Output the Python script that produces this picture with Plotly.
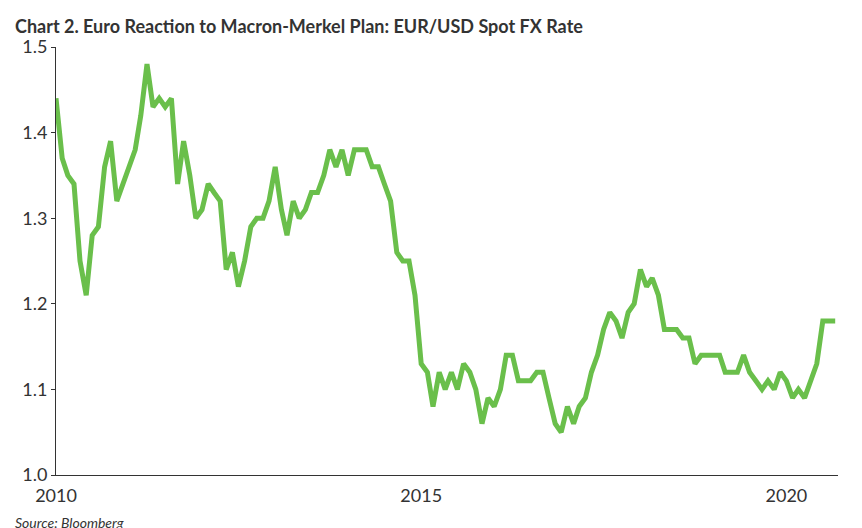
import plotly.graph_objects as go
import pandas as pd

vals = [
1.44,1.37,1.35,1.34,1.25,1.21,1.28,1.29,1.36,1.39,1.32,1.34,
1.36,1.38,1.42,1.48,1.43,1.44,1.43,1.44,1.34,1.39,1.35,1.30,
1.31,1.34,1.33,1.32,1.24,1.26,1.22,1.25,1.29,1.30,1.30,1.32,
1.36,1.31,1.28,1.32,1.30,1.31,1.33,1.33,1.35,1.38,1.36,1.38,
1.35,1.38,1.38,1.38,1.36,1.36,1.34,1.32,1.26,1.25,1.25,1.21,
1.13,1.12,1.08,1.12,1.10,1.12,1.10,1.13,1.12,1.10,1.06,1.09,
1.08,1.10,1.14,1.14,1.11,1.11,1.11,1.12,1.12,1.09,1.06,1.05,
1.08,1.06,1.08,1.09,1.12,1.14,1.17,1.19,1.18,1.16,1.19,1.20,
1.24,1.22,1.23,1.21,1.17,1.17,1.17,1.16,1.16,1.13,1.14,1.14,
1.14,1.14,1.12,1.12,1.12,1.14,1.12,1.11,1.10,1.11,1.10,1.12,
1.11,1.09,1.10,1.09,1.11,1.13,1.18,1.18,1.18]
dates = pd.date_range("2010-01-01", periods=len(vals), freq="MS")
x_ticks = ["2010-01-01", "2015-01-01", "2020-01-01"]
x_labels = ["2010", "2015", "2020"]
y_ticks = [1.0, 1.1, 1.2, 1.3, 1.4, 1.5]

fig = go.Figure(go.Scatter(x=dates, y=vals, mode="lines",
                           line=dict(color="#6abf4b", width=5)))
fig.update_layout(
    width=862, height=528, margin=dict(l=48, r=32, t=39, b=61),
    plot_bgcolor="white", paper_bgcolor="white", showlegend=False,
    font=dict(family="Lato, sans-serif", color="#333", size=18),
    xaxis=dict(range=["2010-01-01", "2020-09-15"], showgrid=False,
               showline=True, linecolor="#333", linewidth=1,
               tickvals=x_ticks, ticktext=x_labels, ticks="", ticklabelstandoff=4),
    yaxis=dict(range=[1.0, 1.5], showgrid=False, showline=True, linecolor="#333",
               linewidth=1, tickvals=y_ticks, tickformat=".1f", ticks="outside",
               ticklen=4, tickcolor="#333"),
)
fig.add_annotation(text="<b>Chart 2. Euro Reaction to Macron-Merkel Plan: EUR/USD Spot FX Rate</b>",
                   xref="paper", yref="paper", x=-0.055, y=1.05, xanchor="left",
                   yanchor="middle", showarrow=False, font=dict(size=18, color="#333"))
fig.add_annotation(text="<i>Source: Bloomberg</i>", xref="paper", yref="paper",
                   x=-0.055, y=-0.11, xanchor="left", yanchor="middle", showarrow=False,
                   font=dict(size=14, color="#333"))
fig.write_html("out.html")
